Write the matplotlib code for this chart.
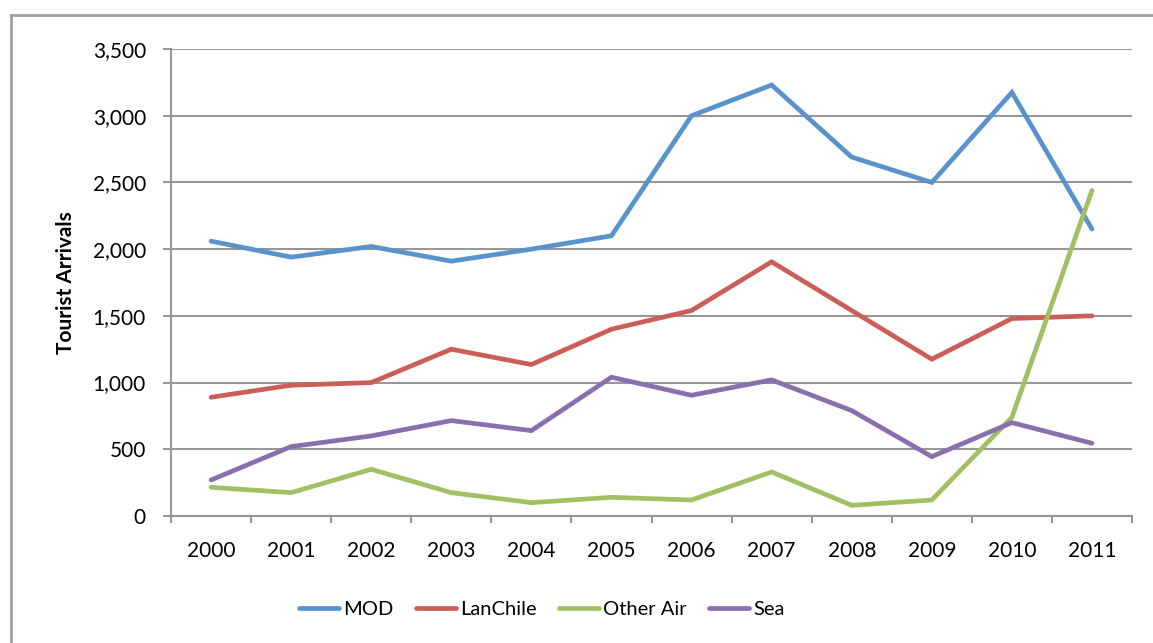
import matplotlib
matplotlib.use("Agg")
import matplotlib.pyplot as plt
from matplotlib.lines import Line2D
from matplotlib.ticker import FuncFormatter, MultipleLocator, FixedLocator

plt.rcParams['font.family'] = ['Lato', 'DejaVu Sans']

years = ["2000", "2001", "2002", "2003", "2004", "2005",
         "2006", "2007", "2008", "2009", "2010", "2011"]
mod = [2060, 1940, 2020, 1910, 2000, 2100, 3000, 3230, 2690, 2500, 3175, 2150]
lanchile = [890, 980, 1000, 1250, 1135, 1400, 1540, 1905, 1540, 1175, 1480, 1500]
other_air = [215, 175, 350, 175, 100, 140, 120, 330, 80, 120, 740, 2440]
sea = [270, 520, 600, 715, 640, 1040, 905, 1020, 790, 445, 700, 545]

series = [
    ("MOD", mod, "#5A93CB"),
    ("LanChile", lanchile, "#CB5F58"),
    ("Other Air", other_air, "#A1C063"),
    ("Sea", sea, "#8A6FAE"),
]

W, H = 1153, 643
fig = plt.figure(figsize=(W / 100, H / 100), dpi=100)
ax = fig.add_axes([171 / W, 1 - 516 / H, (1132 - 171) / W, (516 - 49) / H])

grid_col = "#979797"
x = list(range(len(years)))
for name, vals, col in series:
    ax.plot(x, vals, color=col, lw=3.4, label=name,
            solid_capstyle="round", solid_joinstyle="miter")

ax.set_xlim(-0.5, len(years) - 0.5)
ax.set_ylim(0, 3500)
ax.yaxis.set_major_locator(MultipleLocator(500))
ax.yaxis.set_major_formatter(FuncFormatter(lambda v, p: f"{int(v):,}"))
ax.grid(axis="y", color=grid_col, lw=1.5)
ax.set_axisbelow(True)

# category boundaries carry the tick marks, labels sit at category centres
ax.xaxis.set_major_locator(FixedLocator([i - 0.5 for i in range(len(years) + 1)]))
ax.xaxis.set_major_formatter(FuncFormatter(lambda v, p: ""))
ax.xaxis.set_minor_locator(FixedLocator(x))
ax.set_xticklabels(years, minor=True)
ax.tick_params(axis="x", which="major", length=5, width=1.5, color=grid_col, direction="out")
ax.tick_params(axis="x", which="minor", length=0, pad=18, labelsize=15)
ax.tick_params(axis="y", length=6, width=1.5, color=grid_col, pad=12, labelsize=15)

for side in ("top", "right"):
    ax.spines[side].set_visible(False)
for side in ("left", "bottom"):
    ax.spines[side].set_color(grid_col)
    ax.spines[side].set_linewidth(1.5)

ax.set_ylabel("Tourist Arrivals", fontsize=15, fontweight="bold", labelpad=12)

fig.legend(loc="center", bbox_to_anchor=(542 / W, 1 - 609 / H), ncol=4,
           frameon=False, fontsize=14.5, handlelength=2.0, handletextpad=0.2,
           columnspacing=1.1)

# outer chart-area border
frame_col = "#A0A0A0"
fig.add_artist(Line2D([11 / W, 11 / W], [1 - 15 / H, 0], transform=fig.transFigure,
                      color=frame_col, lw=2))
fig.add_artist(Line2D([11 / W, 1], [1 - 15 / H, 1 - 15 / H], transform=fig.transFigure,
                      color=frame_col, lw=2))

fig.savefig("out.png", dpi=100)
